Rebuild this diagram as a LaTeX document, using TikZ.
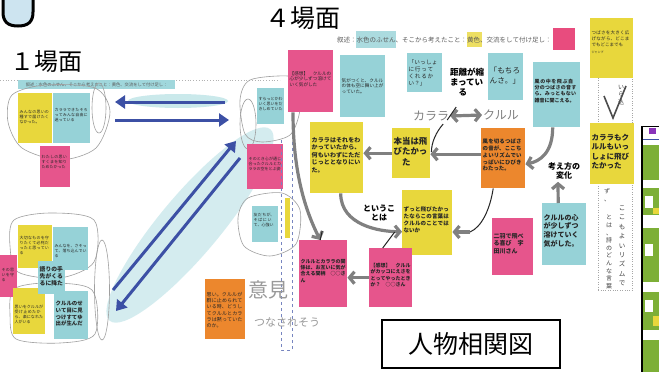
\documentclass[tikz,border=0pt]{standalone}
\usepackage{fontspec}
\setmainfont{Noto Sans CJK JP}
\usetikzlibrary{arrows.meta,shapes.geometric}
\XeTeXlinebreaklocale "ja"
\XeTeXlinebreakskip=0pt plus 1pt
\definecolor{pinkN}{RGB}{230,85,140}
\definecolor{cyanN}{RGB}{150,210,215}
\definecolor{yellowN}{RGB}{232,215,60}
\definecolor{orangeN}{RGB}{236,135,45}
\definecolor{blueA}{RGB}{60,80,165}
\definecolor{washT}{RGB}{160,215,220}
\definecolor{grayA}{RGB}{128,128,128}
\definecolor{greenP}{RGB}{125,175,55}
\definecolor{legendT}{RGB}{90,90,90}
\definecolor{capC}{RGB}{205,228,240}
\tikzset{
  notebox/.style={inner sep=0pt, draw=none},
  notetext/.style={inner sep=1pt, align=left, text=black!85},
  boldtxt/.style={font=\bfseries\fontsize{#1}{1.2\dimexpr#1pt\relax}\selectfont, align=left, inner sep=0pt},
  barrow/.style={draw=blueA, line width=3pt, -{Triangle[length=10pt,width=13pt]}},
  garrow/.style={draw=grayA, line width=3.2pt, -{Straight Barb[length=5pt,width=12pt]}},
  garrowtwo/.style={draw=grayA, line width=3.2pt, {Straight Barb[length=5pt,width=12pt]}-{Straight Barb[length=5pt,width=12pt]}},
  blk/.style={draw=black!85, line width=1pt},
  penloop/.style={draw=gray!75, line width=0.6pt},
  hand/.style={text=gray!80, inner sep=0pt},
  vtext/.style={align=center, inner sep=0pt, text=black!75},
}
% name, colour, x, y, width, height, font size, text, top padding
\newcommand\Note[9]{%
  \node[notebox, fill=#2, minimum width=#5pt, minimum height=#6pt, anchor=north west] (#1) at (#3,#4) {};
  \pgfmathsetmacro\notetw{#5-3}%
  \node[notetext, text width=\notetw pt, anchor=north west, font=\fontsize{#7}{1.25\dimexpr#7pt\relax}\selectfont] (#1t) at ([xshift=0.5pt,yshift=-#9pt]#1.north west) {#8};
}
\begin{document}
\begin{tikzpicture}[x=1pt,y=-1pt]
\useasboundingbox[fill=white] (0,0) rectangle (659,372);

% ---- top-left corner shape
\draw[line width=3pt, fill=capC] (3,-3) -- (3,12) .. controls (3,22) and (8,26) .. (18,26) .. controls (28,26) and (33,22) .. (33,12) -- (33,-3);

% ---- headings
\node[font=\fontsize{24}{26}\selectfont, inner sep=0pt] (h1) at (46,62) {１場面};
\node[font=\fontsize{25}{27}\selectfont, inner sep=0pt] (h4) at (303,18) {４場面};

% ---- left panel separator and legend strip
\draw[gray!60, dotted, line width=0.8pt] (0,80) -- (280,80);
\node[notebox, fill=washT, minimum width=157pt, minimum height=9pt, anchor=north west] (lstrip) at (18,80) {};
\node[font=\fontsize{4.3}{5}\selectfont, text=legendT, inner sep=0pt] (lstript) at (lstrip) {叙述：水色のふせん、そこから考えたこと：黄色、交流をして付け足し：};

% ---- watercolour washes
\fill[washT, opacity=0.55] (178,101) ellipse [x radius=50, y radius=7];
\fill[washT, opacity=0.45, rotate around={50:(190,225)}] (190,225) ellipse [x radius=125, y radius=30];

% ---- blue arrows
\coordinate (bl1) at (225,102);
\coordinate (bl2) at (115,102);
\coordinate (bl3) at (115,120);
\coordinate (bl4) at (229,120);
\coordinate (bl5) at (113,290);
\coordinate (bl6) at (236,141);
\coordinate (bl7) at (240,158);
\coordinate (bl8) at (116,311);
\draw[barrow] (bl1) -- (bl2);
\draw[barrow] (bl3) -- (bl4);
\draw[barrow] (bl5) -- (bl6);
\draw[barrow] (bl7) -- (bl8);

% ---- left group, scene 1 top
\draw[penloop] plot[smooth cycle] coordinates {(12,95) (45,85) (95,88) (110,112) (96,148) (60,160) (22,148) (8,122)};
\Note{ya}{yellowN}{18}{93}{34}{50}{4}{みんなの思いの種すで届けたくなかった。}{16}
\Note{ca}{cyanN}{53}{93}{37}{50}{4}{カララできたそろってみんな自由に迷っている}{14}
\node[draw=gray!75, line width=0.6pt, ellipse, minimum width=14pt, minimum height=50pt, inner sep=0pt] (ea) at (99,108) {};
\Note{pa}{pinkN}{40}{146}{30}{41}{4}{わたしの思いすくまを知りためたかった}{8}

% ---- left group, scene 1 bottom
\draw[penloop] plot[smooth cycle] coordinates {(14,220) (50,213) (94,220) (94,262) (60,278) (18,272) (10,246)};
\draw[penloop] plot[smooth cycle] coordinates {(14,289) (48,283) (92,290) (95,334) (60,343) (16,339) (10,314)};
\Note{yb}{yellowN}{18}{225}{34}{43}{4}{大切なものを守りたくて必死だったと思っている}{10}
\Note{cb}{cyanN}{53}{227}{35}{43}{4}{みんなを、さそって、落ち込んでいる}{16}
\Note{pb}{pinkN}{0}{255}{17}{42}{4}{その思いを守る}{12}
\Note{yc}{yellowN}{13}{288}{32}{46}{4}{思いをクルルが受け止めたから、楽になれた人がいる}{16}
\Note{cd}{cyanN}{54}{291}{34}{48}{5.4}{\bfseries クルルのせ\\いて目に見\\つけすてゆ\\出が生んだ}{9}
\Note{cc}{cyanN}{38}{261}{27}{33}{5.8}{\bfseries 語りの手\\先がくる\\るに降た}{4}
\node[draw=gray!75, line width=0.6pt, ellipse, minimum width=15pt, minimum height=100pt, inner sep=0pt] (eb) at (102,290) {};

% ---- orange note, lower middle
\Note{oa}{orangeN}{205}{279}{40}{60}{5}{思い。クルルが群に止められている時、どうしてクルルとカララは黙っていたのか。}{12}

% ---- middle column
\draw[penloop] plot[smooth cycle] coordinates {(240,100) (250,80) (288,76) (298,84) (300,110) (290,135) (262,142) (245,134)};
\node[draw=gray!75, line width=0.6pt, ellipse, minimum width=16pt, minimum height=50pt, inner sep=0pt] (ec) at (248,124) {};
\Note{cm}{cyanN}{257}{88}{27}{36}{4}{すらっとかわいく思いをだきしめていた}{8}
\Note{pm}{pinkN}{247}{144}{36}{45}{4}{そのとき心が通じ合ったクルルとカララの空をとぶ姿}{12}
\draw[penloop] plot[smooth cycle] coordinates {(248,198) (282,193) (300,210) (296,244) (270,256) (244,246) (238,218)};
\Note{cn}{cyanN}{252}{206}{26}{36}{4}{友だちが、そばにいて、心強い}{6}
\draw[blueA!70, line width=0.5pt, dashed] (281,140) -- (281,350) -- (292,350) -- (292,113);
\fill[yellowN] (285,198) rectangle (290,238);
\node[hand, font=\fontsize{20}{22}\selectfont] (iken) at (268,290) {意見};
\node[hand, font=\fontsize{11}{12}\selectfont] (tsuna) at (287,322) {つなされそう};

% ---- scene 4 legend
\fill[cyanN!80] (356,31) rectangle (396,48);
\fill[yellowN!80] (467,32) rectangle (482,47);
\node[fill=pinkN!90!red, minimum width=22pt, minimum height=22pt, inner sep=0pt] (legpink) at (564,39) {};
\node[font=\fontsize{6.5}{7}\selectfont, text=legendT, inner sep=0pt, anchor=west] (leg) at (337,40) {叙述：水色のふせん、そこから考えたこと：黄色、交流をして付け足し：};

% ---- vertical paper strip on the right
\node[draw=gray!70, dotted, fill=white, minimum width=34pt, minimum height=215pt, inner sep=0pt, anchor=north west] (strip) at (598,75) {};
\node[vtext, font=\fontsize{6.5}{9.4}\selectfont] (v1) at (622,246) {こ\\こ\\も\\よ\\い\\リ\\ズ\\ム\\で};
\node[vtext, font=\fontsize{6}{7.6}\selectfont] (v2) at (609,252) {と\\は\\、\\詩\\の\\ど\\ん\\な\\言\\葉};
\node[vtext, font=\fontsize{6}{7.6}\selectfont] (v3) at (607,195) {ず\\、};
\node[vtext, font=\fontsize{6}{7.6}\selectfont] (v4) at (621,95) {い\\ら\\込};
\draw[black!70, line width=1.6pt] (604,96) -- (613,118) -- (626,86);

% ---- scene 4 notes
\Note{p1}{pinkN}{288}{50}{45}{62}{4.6}{【感想】　クルルの心が少しずつ溶けていく気がした}{20}
\Note{c1}{cyanN}{340}{55}{45}{62}{4.6}{気がつくと、クルルの体も空に舞い上がっていた。}{22}
\Note{c2}{cyanN}{407}{53}{35}{39}{5.6}{「いっしょに行ってくれるかい？」}{6}
\node[boldtxt=8.5] (kyori) at (467,82) {距離が縮\\まってい\\\hspace*{8.5pt}る};
\Note{c3}{cyanN}{488}{53}{35}{47}{7.6}{「もちろ\\んさ。」}{13}
\Note{c4}{cyanN}{533}{62}{47}{65}{5}{\bfseries 風の中を飛ぶ自分のつばさの音すら、みっともない雑音に聞こえる。}{16}
\Note{y1}{yellowN}{590}{18}{43}{60}{4.5}{つばさを大きく広げながら、どこまでもどこまでも\\[2pt]{\fontsize{3}{4}\selectfont ジャンプ}}{12}
\Note{y2}{yellowN}{590}{123}{44}{61}{7.5}{\bfseries カララもク\\ルルもいっ\\しょに飛び\\たかった}{10}
\Note{y3}{yellowN}{392}{128}{38}{50}{8.4}{\bfseries 本当は飛\\びたかっ\\\hspace*{8.4pt}た}{8}
\Note{y4}{yellowN}{310}{122}{53}{71}{6}{\bfseries カララはそれをわかっていたから、何もいわずにただじっととなりにいた。}{14}
\Note{o1}{orangeN}{481}{128}{44}{60}{5.4}{\bfseries 風を切るつばさの音が、ここちよいリズムでいっぱいにひびきわたった。}{10}
\Note{c5}{cyanN}{542}{203}{44}{62}{7}{\bfseries クルルの心\\が少しずつ\\溶けていく\\気がした。}{10}
\Note{p2}{pinkN}{492}{218}{41}{57}{6}{\bfseries 二羽で飛べ\\る喜び　宇\\田川さん}{14}
\Note{y5}{yellowN}{402}{190}{50}{65}{5.5}{\bfseries ずっと飛びたかったならこの言葉はクルルのことではないか}{16}
\Note{p3}{pinkN}{369}{248}{43}{59}{5}{\bfseries 【感想】　クルルがカッコにえさをとってやったときか？　○○さん}{14}
\Note{p4}{pinkN}{299}{240}{48}{67}{5}{\bfseries クルルとカララの関係は、お互いに気が合える間柄　○○さん}{18}

\node[boldtxt=8] (toiu) at (379,213) {というこ\\\hspace*{8pt}とは};
\node[boldtxt=8] (henka) at (564,171) {考え方の\\\hspace*{8pt}変化};

\node[text=grayA, font=\fontsize{12}{13}\selectfont, inner sep=0pt] (karara) at (431,116) {カララ};
\node[text=grayA, font=\fontsize{12}{13}\selectfont, inner sep=0pt] (kururu) at (501,115) {クルル};

% ---- scene 4 connectors
\draw[garrowtwo] ([xshift=1pt]karara.east) -- ([xshift=-1pt]kururu.west);
\draw[blk] ([xshift=-2pt,yshift=-4pt]karara.east) -- ++(9,-13);
\coordinate (o1w) at ([yshift=4pt]o1.west);
\draw[garrow] (o1w) -- (y3.east |- o1w);
\draw[blk] ([xshift=-6pt,yshift=-8pt]karara.east) .. controls +(-7,8) and +(0,-10) .. ([xshift=1pt,yshift=2pt]y3.east |- o1w);
\draw[garrow] (y3.west) -- (y4.east |- y3.west);
\draw[garrow] ([xshift=-4pt]c4.south) .. controls +(0,25) and +(15,-3) .. ([yshift=-6pt]o1.east);
\draw[garrow] ([xshift=-6pt]c5.north) -- ([xshift=-6pt,yshift=-2pt]henka.south);
\coordinate (g1) at (470,232);
\draw[blk] ([xshift=-10pt]o1.south) .. controls +(-3,20) and +(12,-5) .. (g1);
\draw[garrow] (g1) -- (y5.east |- g1);
\draw[garrow] ([xshift=4pt]y4.south) .. controls +(0,32) and +(-22,0) .. ([yshift=-9pt]y5.west);
\draw[blk] ([xshift=-8pt]p3.north) -- ++(12,-16);
\draw[garrow] (p3.west) -- (p4.east |- p3.west);
\draw[garrow] ([xshift=5pt]p1.south west) .. controls +(0,60) and +(-15,-30) .. ([xshift=-3pt]p4.north);
\draw[blk] ([xshift=-3pt]p4.north) -- ++(2,-9);

% ---- title box
\node[draw, line width=1.1pt, minimum width=178pt, minimum height=48pt, inner sep=0pt, font=\fontsize{25}{27}\selectfont] (title) at (471,344) {人物相関図};

% ---- right edge panel
\fill[white] (642,126) rectangle (659,372);
\fill[greenP] (643,145) rectangle (659,180);
\fill[greenP] (643,188) rectangle (659,215);
\fill[greenP] (643,228) rectangle (659,282);
\fill[greenP] (643,292) rectangle (659,330);
\fill[greenP] (643,340) rectangle (659,372);
\fill[white] (645,196) rectangle (653,208);
\fill[white] (645,244) rectangle (653,256);
\fill[white] (645,300) rectangle (653,312);
\fill[yellowN] (653,208) rectangle (659,214);
\fill[yellowN] (653,316) rectangle (659,326);
\fill[pinkN!60!blue] (649,128) rectangle (656,134);
\draw[blueA, line width=0.8pt] (643,139) -- (659,139);
\draw[line width=1.8pt] (642,372) -- (642,126.5) -- (659,126.5);
\end{tikzpicture}
\end{document}
